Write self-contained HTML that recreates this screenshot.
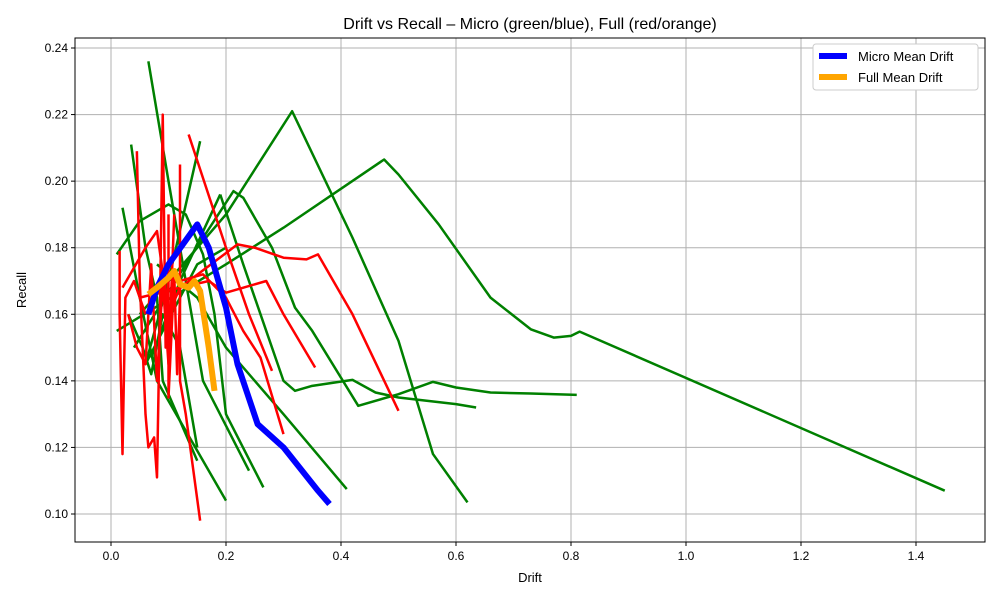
<!DOCTYPE html>
<html><head><meta charset="utf-8"><style>
body{margin:0;background:#fff;font-family:"Liberation Sans",sans-serif}
svg text{font-family:"Liberation Sans",sans-serif;fill:#000}
</style></head><body>
<svg id="chart" width="1000" height="600">
<text x="530" y="29" font-size="16" text-anchor="middle">Drift vs Recall – Micro (green/blue), Full (red/orange)</text>
<g id="grid"></g><g id="series"></g><g id="axes"></g>
<rect x="75" y="38" width="910" height="504" fill="none" stroke="#000" stroke-width="1"/>
<text x="530" y="582" font-size="13" text-anchor="middle">Drift</text>
<text x="26" y="290" font-size="13" text-anchor="middle" transform="rotate(-90 26 290)">Recall</text>
<g>
<rect x="813" y="44" width="165" height="46" rx="3" fill="#fff" stroke="#ccc"/>
<g><line x1="819" y1="56" x2="847" y2="56" stroke="#0000ff" stroke-width="6"/><text x="858" y="61" font-size="13">Micro Mean Drift</text></g>
<g><line x1="819" y1="77" x2="847" y2="77" stroke="#ffa500" stroke-width="6"/><text x="858" y="82" font-size="13">Full Mean Drift</text></g>
</g>
</svg>
<script>
const xTicks=[0,0.2,0.4,0.6,0.8,1.0,1.2,1.4];
const yTicks=[0.10,0.12,0.14,0.16,0.18,0.20,0.22,0.24];
const greenSeries=[
[[0.01,0.155],[0.2,0.175],[0.3,0.186],[0.475,0.2065],[0.5,0.202],[0.57,0.187],[0.66,0.165],[0.73,0.1555],[0.77,0.153],[0.8,0.1535],[0.815,0.1548],[1.45,0.107]],
[[0.05,0.16],[0.2,0.19],[0.315,0.221],[0.42,0.183],[0.5,0.152],[0.56,0.118],[0.62,0.1035]],
[[0.04,0.15],[0.13,0.175],[0.213,0.197],[0.23,0.195],[0.28,0.18],[0.32,0.162],[0.35,0.155],[0.43,0.1325],[0.5,0.136],[0.56,0.1397],[0.6,0.138],[0.66,0.1365],[0.73,0.1362],[0.81,0.1358]],
[[0.19,0.196],[0.23,0.175],[0.27,0.155],[0.3,0.14],[0.32,0.137],[0.35,0.1385],[0.42,0.1403],[0.46,0.1365],[0.5,0.135],[0.6,0.133],[0.635,0.132]],
[[0.01,0.178],[0.05,0.188],[0.1,0.193],[0.13,0.19],[0.16,0.178],[0.18,0.16],[0.2,0.13],[0.265,0.108]],
[[0.065,0.236],[0.1,0.2],[0.14,0.16],[0.16,0.14],[0.24,0.113]],
[[0.035,0.211],[0.06,0.18],[0.08,0.165],[0.09,0.14],[0.15,0.116]],
[[0.02,0.192],[0.05,0.165],[0.08,0.14],[0.1,0.134],[0.2,0.104]],
[[0.06,0.145],[0.1,0.17],[0.155,0.212]],
[[0.07,0.147],[0.12,0.17],[0.19,0.196]],
[[0.08,0.175],[0.15,0.165],[0.2,0.15],[0.25,0.14],[0.3,0.13],[0.41,0.1075]],
[[0.06,0.145],[0.15,0.175],[0.2,0.18]],
[[0.03,0.16],[0.055,0.15],[0.07,0.142],[0.09,0.16],[0.12,0.15],[0.15,0.12]]
];
const redSeries=[
[[0.135,0.214],[0.2,0.18],[0.24,0.16],[0.28,0.143]],
[[0.045,0.209],[0.05,0.17],[0.06,0.13],[0.065,0.12],[0.075,0.123],[0.08,0.111],[0.085,0.16],[0.09,0.22],[0.095,0.15],[0.1,0.175]],
[[0.02,0.168],[0.06,0.18],[0.08,0.185],[0.1,0.16],[0.12,0.168],[0.22,0.181],[0.25,0.18],[0.3,0.177],[0.34,0.1765],[0.36,0.178],[0.42,0.16],[0.5,0.131]],
[[0.05,0.165],[0.12,0.168],[0.17,0.17],[0.2,0.1665],[0.23,0.168],[0.27,0.17],[0.3,0.16],[0.355,0.144]],
[[0.015,0.179],[0.015,0.16],[0.02,0.118],[0.025,0.165],[0.04,0.17],[0.06,0.16]],
[[0.12,0.205],[0.12,0.14],[0.13,0.13],[0.155,0.098]],
[[0.12,0.17],[0.16,0.172],[0.2,0.165],[0.23,0.155],[0.26,0.147],[0.3,0.124]],
[[0.1,0.19],[0.1,0.135],[0.11,0.172],[0.115,0.142],[0.12,0.165]],
[[0.03,0.16],[0.045,0.15],[0.06,0.145],[0.07,0.175],[0.08,0.14],[0.09,0.17],[0.1,0.145],[0.11,0.19]]
];
const microMean=[[0.065,0.16],[0.08,0.168],[0.1,0.175],[0.15,0.187],[0.17,0.18],[0.2,0.162],[0.22,0.145],[0.255,0.127],[0.3,0.12],[0.36,0.107],[0.38,0.103]];
const fullMean=[[0.065,0.166],[0.08,0.168],[0.1,0.171],[0.11,0.173],[0.12,0.169],[0.135,0.168],[0.145,0.17],[0.155,0.167],[0.17,0.15],[0.18,0.137]];

const X=d=>111+575*d, Y=r=>514-(r-0.10)*3328.6;
const NS="http://www.w3.org/2000/svg";
const grid=document.getElementById('grid'),axes=document.getElementById('axes'),ser=document.getElementById('series');
function mk(t,a,p){const e=document.createElementNS(NS,t);for(const k in a)e.setAttribute(k,a[k]);p.appendChild(e);return e;}
xTicks.forEach(v=>{
 const g=mk('line',{x1:X(v),x2:X(v),y1:38,y2:542,stroke:'#b0b0b0','stroke-width':1},grid);
 
 
 mk('line',{x1:X(v),x2:X(v),y1:542,y2:546,stroke:'#000'},axes);
 const t=mk('text',{x:X(v),y:560,'font-size':12,'text-anchor':'middle'},axes);t.textContent=v.toFixed(1);
 
 
});
yTicks.forEach(v=>{
 const g=mk('line',{x1:75,x2:985,y1:Y(v),y2:Y(v),stroke:'#b0b0b0','stroke-width':1},grid);
 
 
 mk('line',{x1:71,x2:75,y1:Y(v),y2:Y(v),stroke:'#000'},axes);
 const t=mk('text',{x:68,y:Y(v)+4,'font-size':12,'text-anchor':'end'},axes);t.textContent=v.toFixed(2);
 
 
});
function line(pts,color,w,name){
 const p=mk('polyline',{points:pts.map(q=>X(q[0])+','+Y(q[1])).join(' '),fill:'none',stroke:color,'stroke-width':w,'stroke-linejoin':'round'},ser);
 
 
}
greenSeries.forEach(s=>line(s,'#008000',2.5,'micro-run-line'));
redSeries.forEach(s=>line(s,'#ff0000',2.5,'full-run-line'));
line(microMean,'#0000ff',6,'micro-mean-line');
line(fullMean,'#ffa500',6,'full-mean-line');
</script>
</body></html>
